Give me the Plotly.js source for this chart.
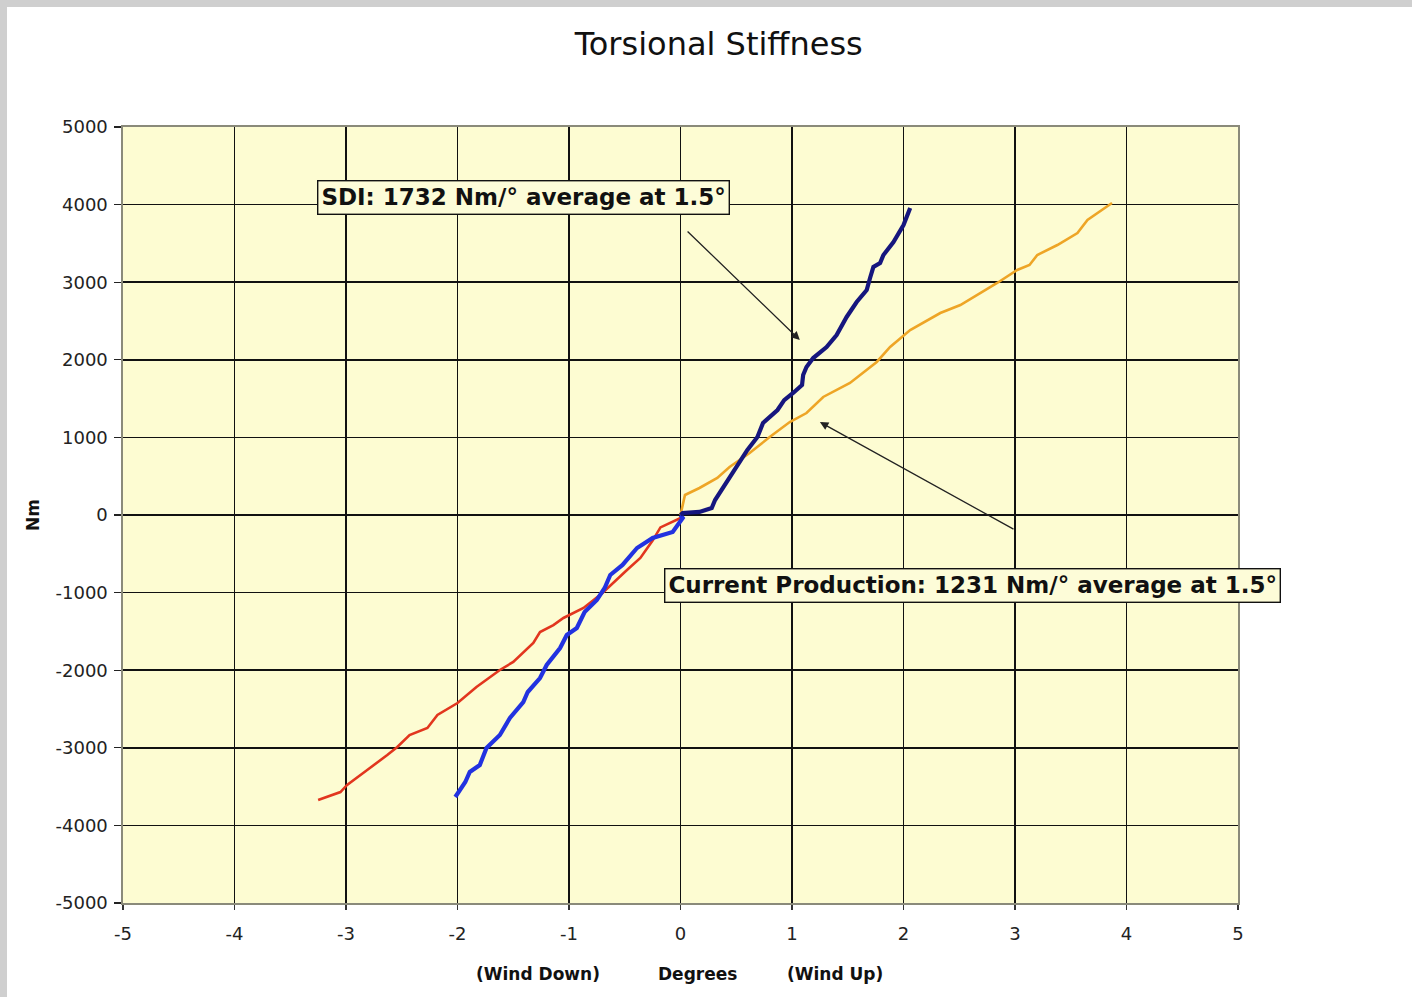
<!DOCTYPE html>
<html>
<head>
<meta charset="utf-8">
<script src="https://cdn.plot.ly/plotly-3.0.1.min.js"></script>
<style>html,body{margin:0;padding:0;background:#fff;}#chart{width:1412px;height:997px;}</style>
</head>
<body>
<div id="chart"></div>
<script>
// SDI, wind up (navy)
const sdiUpX = [0, 0.02, 0.17, 0.28, 0.31, 0.37, 0.47, 0.60, 0.69, 0.74, 0.87, 0.93, 1.01, 1.09, 1.10, 1.13, 1.19, 1.31, 1.40, 1.49, 1.58, 1.67, 1.70, 1.73, 1.79, 1.82, 1.91, 2.00, 2.06];
const sdiUpY = [0, 26, 39, 90, 193, 322, 541, 838, 1005, 1186, 1353, 1480, 1572, 1675, 1804, 1907, 2023, 2165, 2320, 2552, 2745, 2899, 3054, 3196, 3247, 3351, 3518, 3737, 3956];
// SDI, wind down (blue)
const sdiDownX = [0, 0.02, -0.07, -0.25, -0.39, -0.52, -0.63, -0.68, -0.75, -0.86, -0.93, -1.02, -1.08, -1.20, -1.26, -1.37, -1.41, -1.53, -1.62, -1.74, -1.80, -1.89, -1.93, -2.02];
const sdiDownY = [0, -39, -219, -296, -425, -644, -773, -941, -1095, -1250, -1456, -1546, -1714, -1933, -2101, -2281, -2410, -2616, -2835, -3003, -3222, -3312, -3441, -3634];
// Current production, wind up (orange)
const cpUpX = [0, 0.02, 0.04, 0.17, 0.33, 0.44, 0.62, 0.80, 0.98, 1.13, 1.28, 1.52, 1.76, 1.88, 2.06, 2.33, 2.51, 2.84, 3.02, 3.13, 3.20, 3.38, 3.56, 3.65, 3.74, 3.87];
const cpUpY = [0, 129, 258, 348, 477, 619, 799, 1005, 1198, 1314, 1521, 1701, 1972, 2165, 2384, 2603, 2706, 2990, 3157, 3222, 3351, 3479, 3634, 3802, 3892, 4021];
// Current production, wind down (red)
const cpDownX = [0.02, -0.07, -0.18, -0.25, -0.36, -0.48, -0.70, -0.87, -1.05, -1.14, -1.26, -1.32, -1.50, -1.62, -1.83, -2.00, -2.18, -2.27, -2.43, -2.54, -2.63, -2.81, -2.99, -3.05, -3.25];
const cpDownY = [-26, -90, -160, -330, -554, -709, -1005, -1198, -1327, -1418, -1508, -1649, -1894, -1997, -2216, -2423, -2577, -2745, -2835, -2990, -3093, -3286, -3479, -3570, -3673];

const xTicks = [-5, -4, -3, -2, -1, 0, 1, 2, 3, 4, 5];
const yTicks = [-5000, -4000, -3000, -2000, -1000, 0, 1000, 2000, 3000, 4000, 5000];

const titleText = 'Torsional Stiffness';
const yTitle = 'Nm';
const xTitleParts = ['(Wind Down)', 'Degrees', '(Wind Up)'];
const note1 = 'SDI: 1732 Nm/° average at 1.5°';
const note2 = 'Current Production: 1231 Nm/° average at 1.5°';

const traces = [
  {x: cpDownX, y: cpDownY, mode: 'lines', line: {color: '#e2361e', width: 2.6}, hoverinfo: 'skip'},
  {x: cpUpX, y: cpUpY, mode: 'lines', line: {color: '#eea526', width: 2.6}, hoverinfo: 'skip'},
  {x: sdiDownX, y: sdiDownY, mode: 'lines', line: {color: '#2232e0', width: 4.2}, hoverinfo: 'skip'},
  {x: sdiUpX, y: sdiUpY, mode: 'lines', line: {color: '#16167e', width: 4.2}, hoverinfo: 'skip'}
];

const tickFont = {family: 'DejaVu Sans, Verdana, sans-serif', size: 18, color: '#222'};
const boldFont = {family: 'DejaVu Sans, Verdana, sans-serif', size: 17, color: '#111', weight: 'bold'};
const noteFont = {family: 'DejaVu Sans, Verdana, sans-serif', size: 23, color: '#111', weight: 'bold'};

const layout = {
  width: 1412, height: 997,
  paper_bgcolor: '#ffffff',
  plot_bgcolor: '#fdfcd2',
  showlegend: false,
  margin: {l: 123, r: 174, t: 127, b: 94, pad: 0},
  title: {text: titleText, x: 0.509, xanchor: 'center', y: 0.956, yanchor: 'middle',
          font: {family: 'DejaVu Sans, Verdana, sans-serif', size: 32, color: '#111'}},
  xaxis: {
    range: [-5, 5], tickvals: xTicks, ticktext: xTicks.map(String),
    showgrid: true, gridcolor: '#111', gridwidth: 1.6,
    zeroline: false, showline: true, linecolor: '#8a8a7a', linewidth: 1.6, mirror: true,
    ticks: 'outside', ticklen: 5, tickcolor: '#333', tickwidth: 1.2, ticklabelstandoff: 9,
    tickfont: tickFont, fixedrange: true
  },
  yaxis: {
    range: [-5000, 5000], tickvals: yTicks, ticktext: yTicks.map(String),
    showgrid: true, gridcolor: '#111', gridwidth: 1.6,
    zeroline: false, showline: true, linecolor: '#8a8a7a', linewidth: 1.6, mirror: true,
    ticks: 'outside', ticklen: 7, tickcolor: '#222', tickwidth: 1.4, ticklabelstandoff: 3,
    tickfont: tickFont, fixedrange: true
  },
  shapes: [
    {type: 'rect', xref: 'paper', yref: 'paper', x0: -0.2, x1: (7 - 123) / 1115, y0: -0.2, y1: 1.2, fillcolor: '#cfcfcf', line: {width: 0}},
    {type: 'rect', xref: 'paper', yref: 'paper', x0: -0.2, x1: 1.3, y0: (903 - 7) / 776, y1: 1.2, fillcolor: '#cfcfcf', line: {width: 0}}
  ],
  annotations: [
    {xref: 'paper', yref: 'paper', x: (33 - 123) / 1115, y: (903 - 515) / 776, text: yTitle, textangle: -90, showarrow: false, font: boldFont, xanchor: 'center', yanchor: 'middle'},
    {xref: 'paper', yref: 'paper', x: (538 - 123) / 1115, y: (903 - 974) / 776, text: xTitleParts[0], showarrow: false, font: boldFont, xanchor: 'center', yanchor: 'middle'},
    {xref: 'paper', yref: 'paper', x: (697 - 123) / 1115, y: (903 - 974) / 776, text: xTitleParts[1], showarrow: false, font: boldFont, xanchor: 'center', yanchor: 'middle'},
    {xref: 'paper', yref: 'paper', x: (835 - 123) / 1115, y: (903 - 974) / 776, text: xTitleParts[2], showarrow: false, font: boldFont, xanchor: 'center', yanchor: 'middle'},
    {x: 1.07, y: 2255, ax: 0.05, ay: 3673, axref: 'x', ayref: 'y', text: '', showarrow: true, arrowhead: 2, arrowsize: 1.3, arrowwidth: 1.3, arrowcolor: '#222'},
    {x: 1.25, y: 1198, ax: 3.0, ay: -193, axref: 'x', ayref: 'y', text: '', showarrow: true, arrowhead: 2, arrowsize: 1.3, arrowwidth: 1.3, arrowcolor: '#222'},
    {x: -1.41, y: 4098, text: note1, showarrow: false, bgcolor: '#fdfcd8', bordercolor: '#111', borderwidth: 1.4, borderpad: 3,
     font: noteFont, xanchor: 'center', yanchor: 'middle'},
    {x: 2.62, y: -902, text: note2, showarrow: false, bgcolor: '#fdfcd8', bordercolor: '#111', borderwidth: 1.4, borderpad: 3,
     font: noteFont, xanchor: 'center', yanchor: 'middle'}
  ]
};

Plotly.newPlot('chart', traces, layout, {displayModeBar: false, staticPlot: true});
</script>
</body>
</html>
